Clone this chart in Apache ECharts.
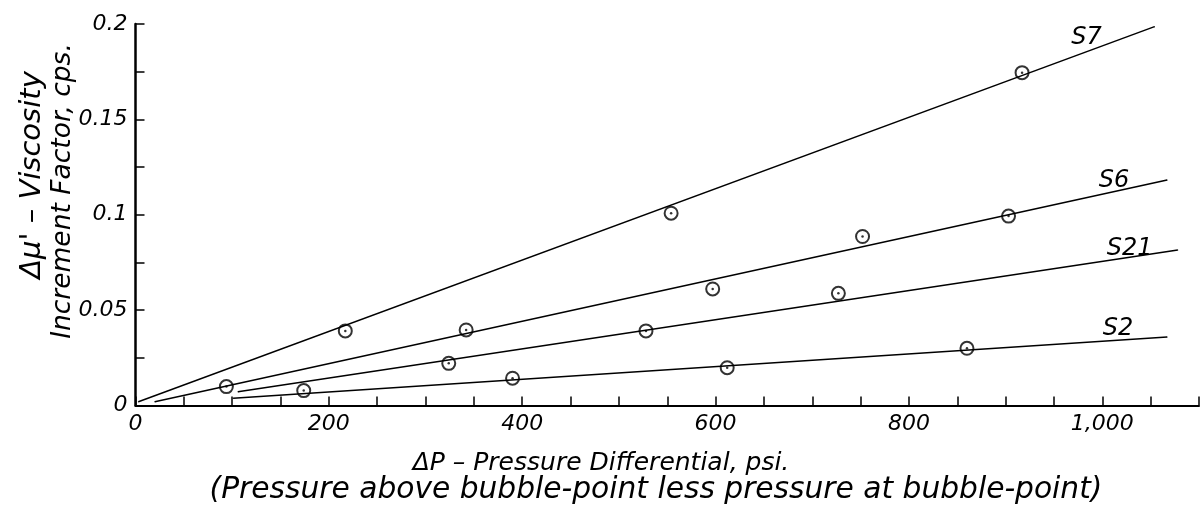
<!DOCTYPE html>
<html><head><meta charset="utf-8">
<script src="https://cdn.jsdelivr.net/npm/echarts@6/dist/echarts.min.js"></script>
<style>html,body{margin:0;padding:0;background:#fff}#c{width:1202px;height:523px}</style>
</head><body><div id="c"></div>
<script>
// ---- data ----
const seriesNames = ['S7', 'S6', 'S21', 'S2'];
const s7Points = [[217, 0.0391], [554, 0.1008], [917, 0.1745]];
const s6Points = [[94, 0.0099], [342, 0.0396], [597, 0.0611], [752, 0.0886], [903, 0.0993]];
const s21Points = [[324, 0.0221], [528, 0.0391], [727, 0.0588]];
const s2Points = [[174, 0.0078], [390, 0.0143], [612, 0.0198], [860, 0.0300]];
const s7Line = [[3, 0.002], [1054, 0.1986]];
const s6Line = [[20, 0.002], [1067, 0.1182]];
const s21Line = [[106, 0.0072], [1078, 0.0815]];
const s2Line = [[101, 0.0038], [1067, 0.0359]];
const xTickValues = [0, 200, 400, 600, 800, 1000];
const xTickLabels = ['0', '200', '400', '600', '800', '1,000'];
const yTickValues = [0, 0.05, 0.1, 0.15, 0.2];
const yTickLabels = ['0', '0.05', '0.1', '0.15', '0.2'];

// ---- styles ----
const FONT = '"DejaVu Sans", sans-serif';
const labelOffsets = [[-68, 11], [-53, 1], [-48, -1], [-49, -8]];
const pointSets = [s7Points, s6Points, s21Points, s2Points];
const lineSets = [s7Line, s6Line, s21Line, s2Line];

const series = [];
lineSets.forEach((ln, i) => {
  series.push({
    type: 'line', name: seriesNames[i],
    data: ln.map((p, j) => j === ln.length - 1 ? {
      value: p,
      label: { show: true, position: 'inside', offset: labelOffsets[i], formatter: seriesNames[i],
        fontFamily: FONT, fontStyle: 'italic', fontSize: 24, color: '#000' }
    } : { value: p }),
    symbol: 'circle', symbolSize: 1, showSymbol: true,
    itemStyle: { color: '#000' },
    lineStyle: { color: '#000', width: 1.5 },
    silent: true, animation: false, z: 2
  });
});
pointSets.forEach((pts, i) => {
  series.push({
    type: 'scatter', name: seriesNames[i] + ' data', data: pts,
    symbol: 'circle', symbolSize: 13,
    itemStyle: { color: 'rgba(0,0,0,0)', borderColor: '#000', borderWidth: 2 },
    silent: true, animation: false, z: 3
  });
  series.push({
    type: 'scatter', name: seriesNames[i] + ' centre', data: pts,
    symbol: 'circle', symbolSize: 2.5,
    itemStyle: { color: '#000' },
    silent: true, animation: false, z: 4
  });
});

function findLabel(vals, labs, v) {
  for (let k = 0; k < vals.length; k++) if (Math.abs(vals[k] - v) < 1e-9) return labs[k];
  return '';
}

const chart = echarts.init(document.getElementById('c'), null, { renderer: 'canvas' });
chart.setOption({
  animation: false,
  backgroundColor: '#fff',
  grid: { left: 135.5, right: 1, top: 24, bottom: 117.5, containLabel: false },
  xAxis: {
    type: 'value', min: 0, max: 1100, interval: 50,
    axisLine: { show: true, lineStyle: { color: '#000', width: 2 } },
    axisTick: { show: true, inside: true, length: 9, lineStyle: { color: '#000', width: 1.5 } },
    axisLabel: { margin: 8, formatter: v => findLabel(xTickValues, xTickLabels, v),
      fontFamily: FONT, fontStyle: 'italic', fontSize: 22, color: '#000' },
    splitLine: { show: false }
  },
  yAxis: {
    type: 'value', min: 0, max: 0.2, interval: 0.025,
    axisLine: { show: true, lineStyle: { color: '#000', width: 2.5 } },
    axisTick: { show: true, inside: true, length: 9, lineStyle: { color: '#000', width: 1.5 } },
    axisLabel: { margin: 8, formatter: v => findLabel(yTickValues, yTickLabels, v),
      fontFamily: FONT, fontStyle: 'italic', fontSize: 22, color: '#000' },
    splitLine: { show: false }
  },
  graphic: [
    { type: 'text', x: 32, y: 175, rotation: Math.PI / 2,
      style: { text: "Δμ' – Viscosity", font: 'italic 29px ' + FONT, fill: '#000', align: 'center', verticalAlign: 'middle' } },
    { type: 'text', x: 63, y: 191, rotation: Math.PI / 2,
      style: { text: 'Increment Factor, cps.', font: 'italic 26.5px ' + FONT, fill: '#000', align: 'center', verticalAlign: 'middle' } },
    { type: 'text', x: 601, y: 463,
      style: { text: 'ΔP – Pressure Differential, psi.', font: 'italic 25px ' + FONT, fill: '#000', align: 'center', verticalAlign: 'middle' } },
    { type: 'text', x: 656, y: 490,
      style: { text: '(Pressure above bubble-point less pressure at bubble-point)', font: 'italic 29.7px ' + FONT, fill: '#000', align: 'center', verticalAlign: 'middle' } }
  ],
  series: series
});
</script>
</body></html>
